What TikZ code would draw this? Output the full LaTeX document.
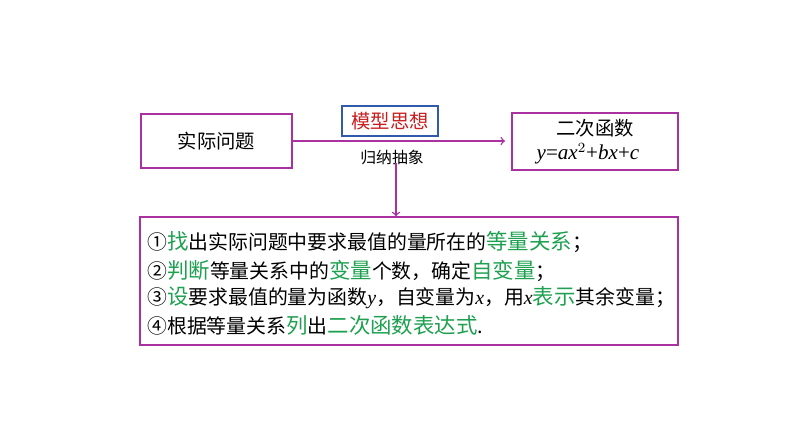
\documentclass[tikz,border=0pt]{standalone}
\usepackage{fontspec}
\setmainfont{Noto Sans CJK SC}
\newfontfamily\tms{Liberation Serif}
\usepackage{tikz}
\usetikzlibrary{arrows}
\definecolor{frame}{RGB}{170,50,160}
\definecolor{tagblue}{RGB}{50,90,170}
\definecolor{tagred}{RGB}{200,30,30}
\definecolor{keygreen}{RGB}{30,160,80}
\tikzstyle{box} = [rectangle,draw=frame,line width=0.8pt,inner sep=0pt,
font=\fontsize{11}{13}\selectfont]
\tikzstyle{tag} = [rectangle,draw=tagblue,line width=1pt,text=tagred,
minimum width=1.92cm,minimum height=0.6cm,font=\fontsize{11}{13}\selectfont]
\tikzstyle{caption} = [font=\fontsize{9}{10}\selectfont]
\tikzstyle{stepline} = [anchor=west,inner sep=0pt,font=\fontsize{11.3}{13}\selectfont]
\tikzstyle{link} = [draw=frame,line width=0.8pt,->,>=to]
\newcommand{\hl}[1]{\textcolor{keygreen}{\fontsize{12.2}{13}\selectfont #1}}
\newcommand{\var}[1]{{\tms\itshape #1}}
\begin{document}
\begin{tikzpicture}
  \useasboundingbox (0,0) rectangle (15.88,8.94);
  \node[box,minimum width=3.02cm,minimum height=1.08cm](prob) at (4.33,6.12) {实际问题};
  \node[box,minimum width=3.32cm,minimum height=1.14cm,align=center,
    font=\fontsize{11}{14}\selectfont](quad) at (11.90,6.11)
    {二次函数\\\hspace*{-8pt}{\tms\fontsize{12}{13}\selectfont\var{y}=\var{ax}$^2$+\var{bx}+\var{c}}};
  \node[tag](model) at (7.80,6.52) {模型思想};
  \node[caption](abs) at (7.84,5.80) {归纳抽象};
  \coordinate(tip) at (10.10,6.12);
  \coordinate(drop) at (7.92,5.68);
  \node[box,minimum width=10.76cm,minimum height=2.56cm](steps) at (8.18,3.32) {};
  \node[stepline](l1) at (2.94,4.10) {①\hl{找}出实际问题中要求最值的量所在的\hl{等量关系}；};
  \node[stepline](l2) at (2.94,3.52) {②\hl{判断}等量关系中的\hl{变量}个数，确定\hl{自变量}；};
  \node[stepline](l3) at (2.94,2.98) {③\hl{设}要求最值的量为函数\var{y}，自变量为\var{x}，用\var{x}\hl{表示}其余变量；};
  \node[stepline](l4) at (2.94,2.44) {④根据等量关系\hl{列}出\hl{二次函数表达式}.};
  \draw[link] (prob.east) -- (tip);
  \draw[link] (drop) -- (drop |- steps.north);
\end{tikzpicture}
\end{document}
